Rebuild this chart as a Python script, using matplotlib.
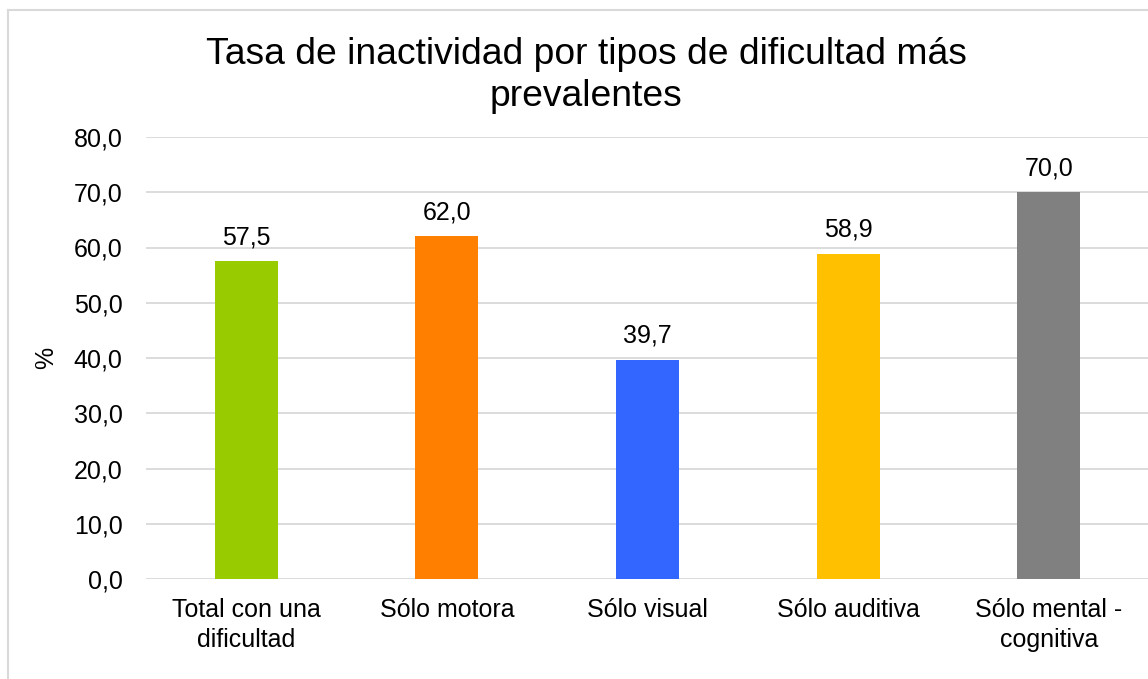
import matplotlib.pyplot as plt
from matplotlib.lines import Line2D

plt.rcParams["font.family"] = ["Liberation Sans", "DejaVu Sans"]

# Datos
categorias = ["Total con una\ndificultad", "Sólo motora", "Sólo visual",
              "Sólo auditiva", "Sólo mental -\ncognitiva"]
valores = [57.5, 62.0, 39.7, 58.9, 70.0]
colores = ["#99CC00", "#FF8000", "#3366FF", "#FFC000", "#808080"]
ticks_y = [0, 10, 20, 30, 40, 50, 60, 70, 80]

W, H = 1148, 679
fig = plt.figure(figsize=(W / 100, H / 100), dpi=100)
ax = fig.add_axes([146 / W, 1 - 579 / H, (1149 - 146) / W, (579 - 137) / H])

x = list(range(len(categorias)))
ax.bar(x, valores, width=0.315, color=colores, zorder=3)

for xi, v in zip(x, valores):
    ax.annotate(f"{v:.1f}".replace(".", ","), (xi, v), xytext=(0, 12),
                textcoords="offset points", ha="center", va="baseline",
                fontsize=18, color="#000000")

ax.set_xlim(-0.5, len(categorias) - 0.5)
ax.set_ylim(0, 80)
ax.set_yticks(ticks_y)
ax.set_yticklabels([f"{t:.1f}".replace(".", ",") for t in ticks_y])
ax.set_xticks(x)
ax.set_xticklabels(categorias, linespacing=1.3)
ax.tick_params(axis="y", length=0, pad=17, labelsize=18)
ax.tick_params(axis="x", length=0, pad=14, labelsize=18)
ax.grid(axis="y", color="#d9d9d9", linewidth=1.3, zorder=0)
for s in ax.spines.values():
    s.set_visible(False)
ax.set_ylabel("%", fontsize=18, labelpad=11)

fig.text(586 / W, 1 - 37 / H, "Tasa de inactividad por tipos de dificultad más\nprevalentes",
         ha="center", va="top", fontsize=26.8, linespacing=1.27)

# borde del gráfico
fig.add_artist(Line2D([8 / W, 8 / W], [0, 1 - 10 / H], transform=fig.transFigure,
                      color="#d9d9d9", linewidth=1.5))
fig.add_artist(Line2D([8 / W, 1], [1 - 10 / H, 1 - 10 / H], transform=fig.transFigure,
                      color="#d9d9d9", linewidth=1.5))

plt.savefig("out.png", dpi=100)
